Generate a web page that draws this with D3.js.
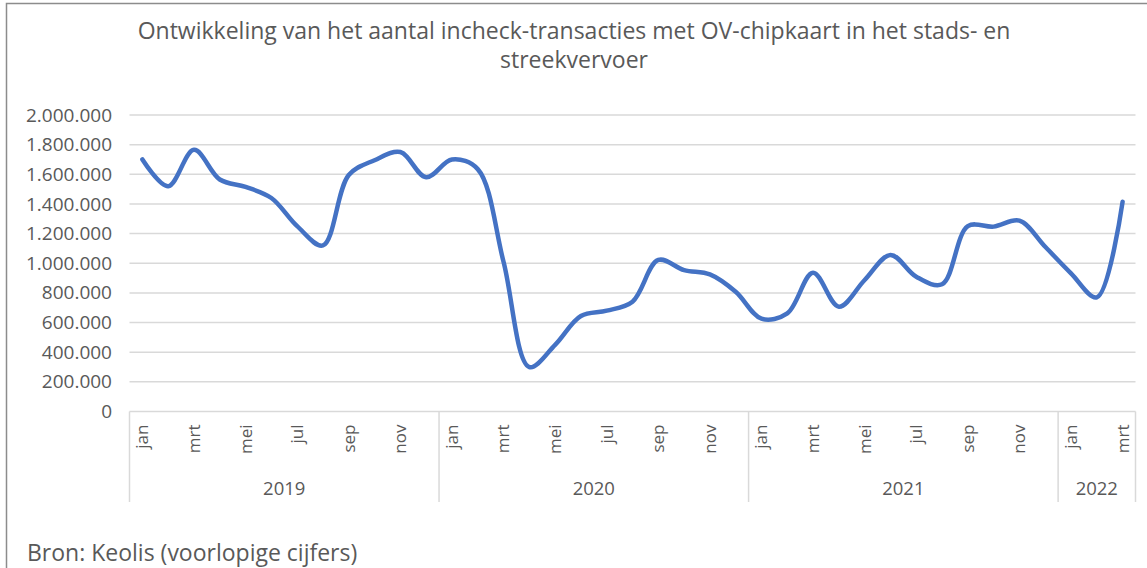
<!DOCTYPE html>
<html>
<head>
<meta charset="utf-8">
<script src="https://cdn.jsdelivr.net/npm/d3@7"></script>
<style>
  body { margin: 0; background: #fff; }
  svg { display: block; font-family: "Open Sans", sans-serif; }
</style>
</head>
<body>
<div id="chart"></div>
<script>
// data
var months = ["jan", "feb", "mrt", "apr", "mei", "jun", "jul", "aug", "sep", "okt", "nov", "dec"];
var years = ["2019", "2020", "2021", "2022"];
var monthsPerYear = [12, 12, 12, 3];
var values2019 = [1700000, 1520000, 1765000, 1565000, 1515000, 1440000, 1250000, 1120000, 1595000, 1695000, 1750000, 1580000];
var values2020 = [1700000, 1635000, 1010000, 300000, 450000, 644000, 680000, 741000, 1022000, 954000, 925000, 808000];
var values2021 = [626000, 662000, 936000, 707000, 887000, 1056000, 909000, 858000, 1250000, 1247000, 1287000, 1111000];
var values2022 = [932000, 770000, 1415000];
var yTicks = [0, 200000, 400000, 600000, 800000, 1000000, 1200000, 1400000, 1600000, 1800000, 2000000];

var title = ["Ontwikkeling van het aantal incheck-transacties met OV-chipkaart in het stads- en", "streekvervoer"];
var source = "Bron: Keolis (voorlopige cijfers)";

var width = 1147, height = 568;
var plotLeft = 129.5, plotRight = 1135.5, plotTop = 115, plotBottom = 411.5;
var textColor = "#595959", gridColor = "#d9d9d9";

// build one row per month
var dataset = [];
[values2019, values2020, values2021, values2022].forEach(function (vals, y) {
    vals.forEach(function (v, m) {
        dataset.push({ year: years[y], month: months[m], value: v });
    });
});

var nl = d3.formatLocale({ decimal: ",", thousands: ".", grouping: [3], currency: ["€", ""] });
var fmt = nl.format(",");

var svg = d3.select("#chart").append("svg")
    .attr("width", width)
    .attr("height", height);

// chart frame
svg.append("path")
    .attr("d", "M6.5," + height + "V3.5H" + width)
    .attr("fill", "none")
    .attr("stroke", "#8c8c8c")
    .attr("stroke-width", 1.5);

var xScale = d3.scaleBand()
    .domain(d3.range(dataset.length))
    .range([plotLeft, plotRight])
    .padding(0);

var yScale = d3.scaleLinear()
    .domain([0, 2000000])
    .range([plotBottom, plotTop]);

// grid lines
svg.append("g")
    .selectAll("line")
    .data(yTicks.slice(1))
    .enter()
    .append("line")
    .attr("x1", plotLeft)
    .attr("x2", plotRight)
    .attr("y1", function (d) { return yScale(d); })
    .attr("y2", function (d) { return yScale(d); })
    .attr("stroke", gridColor)
    .attr("stroke-width", 1.5);

// y axis labels
var yAxis = d3.axisLeft(yScale).tickValues(yTicks).tickSize(0).tickPadding(0).tickFormat(fmt);
var yg = svg.append("g")
    .attr("transform", "translate(112,0)")
    .call(yAxis);
yg.select(".domain").remove();
yg.selectAll("text")
    .attr("fill", textColor)
    .attr("font-size", "19px")
    .attr("font-family", "Open Sans, sans-serif");

// category axis line
svg.append("line")
    .attr("x1", plotLeft).attr("x2", plotRight)
    .attr("y1", plotBottom).attr("y2", plotBottom)
    .attr("stroke", gridColor)
    .attr("stroke-width", 1.5);

// month labels, every other month
var xAxis = d3.axisBottom(xScale)
    .tickValues(d3.range(dataset.length).filter(function (i) { return months.indexOf(dataset[i].month) % 2 === 0; }))
    .tickSize(0)
    .tickFormat(function (i) { return dataset[i].month; });
var xg = svg.append("g")
    .attr("transform", "translate(0," + plotBottom + ")")
    .call(xAxis);
xg.select(".domain").remove();
xg.selectAll("text")
    .attr("transform", "rotate(-90)")
    .attr("x", -13)
    .attr("y", 0)
    .attr("dy", "0.35em")
    .attr("text-anchor", "end")
    .attr("fill", textColor)
    .attr("font-size", "17px")
    .attr("font-family", "Open Sans, sans-serif");

// year separators and labels
var starts = [0];
monthsPerYear.forEach(function (n, i) { starts.push(starts[i] + n); });
svg.append("g")
    .selectAll("line")
    .data(starts)
    .enter()
    .append("line")
    .attr("x1", function (d) { return d < dataset.length ? xScale(d) : plotRight; })
    .attr("x2", function (d) { return d < dataset.length ? xScale(d) : plotRight; })
    .attr("y1", plotBottom)
    .attr("y2", 502)
    .attr("stroke", gridColor)
    .attr("stroke-width", 1.5);

svg.append("g")
    .selectAll("text")
    .data(years)
    .enter()
    .append("text")
    .attr("x", function (d, i) {
        var a = xScale(starts[i]);
        var b = starts[i + 1] < dataset.length ? xScale(starts[i + 1]) : plotRight;
        return (a + b) / 2;
    })
    .attr("y", 495)
    .attr("text-anchor", "middle")
    .attr("fill", textColor)
    .attr("font-size", "18.5px")
    .text(function (d) { return d; });

// the line
var line = d3.line()
    .x(function (d, i) { return xScale(i) + xScale.bandwidth() / 2; })
    .y(function (d) { return yScale(d.value); })
    .curve(d3.curveCatmullRom.alpha(0.5));

svg.append("path")
    .datum(dataset)
    .attr("d", line)
    .attr("fill", "none")
    .attr("stroke", "#4472c4")
    .attr("stroke-width", 4.5)
    .attr("stroke-linecap", "round")
    .attr("stroke-linejoin", "round");

// title
svg.append("g")
    .selectAll("text")
    .data(title)
    .enter()
    .append("text")
    .attr("x", 574)
    .attr("y", function (d, i) { return 39 + i * 29; })
    .attr("text-anchor", "middle")
    .attr("fill", textColor)
    .attr("font-size", "23px")
    .text(function (d) { return d; });

// source note
svg.append("text")
    .attr("x", 27)
    .attr("y", 561)
    .attr("fill", textColor)
    .attr("font-size", "23px")
    .text(source);
</script>
</body>
</html>
